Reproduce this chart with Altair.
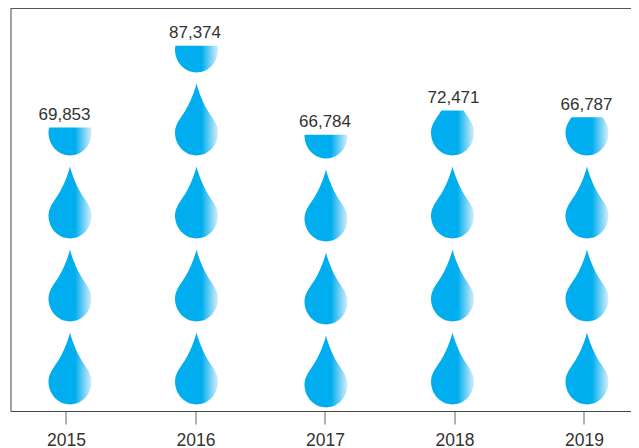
import numpy as np
import pandas as pd
import altair as alt

years = [2015, 2016, 2017, 2018, 2019]
totals = [69853, 87374, 66784, 72471, 66787]
full_drops = [3, 4, 3, 3, 3]
part_fill = [0.39, 0.37, 0.33, 0.625, 0.53]

# horizontal / vertical nudges of each column of drops and of each label
drop_dx = [4, 1, 1, -2, 3]
drop_dy = [0, 0, 3, 0, 0]
text_dx = [-1.5, -0.5, 0, -1, 2.5]

SLOT = 83.0
DROP_H = 72.0
BOTTOM_GAP = 6.5
W, H = 620.5, 402.5


def bez(p0, p1, p2, p3, n=24):
    t = np.linspace(0, 1, n)[:, None]
    p0, p1, p2, p3 = map(np.array, (p0, p1, p2, p3))
    return (1-t)**3*p0 + 3*(1-t)**2*t*p1 + 3*(1-t)*t**2*p2 + t**3*p3


# half width against height of the drop, in drop pixels
ang = np.linspace(-np.pi/2, 0, 24)
arc = np.c_[21.5*np.cos(ang), 23+23*np.sin(ang)]
up1 = bez((21.5, 23), (21.5, 32), (15, 38), (10, 47))
up2 = bez((10, 47), (6, 54), (2, 64), (0, 72))
prof = np.vstack([arc, up1[1:], up2[1:]])


def drop_path(frac):
    hs = np.linspace(0, DROP_H*frac, 70)
    ws = np.interp(hs, prof[:, 1], prof[:, 0])
    ys = (DROP_H/2 - hs)/(DROP_H/2)
    xs = ws/(DROP_H/2)
    pts = [(x, y) for x, y in zip(xs, ys)] + [(-x, y) for x, y in zip(xs[::-1], ys[::-1])]
    return "M" + "L".join(f"{x:.4f},{y:.4f}" for x, y in pts) + "Z"


slot_low = -(BOTTOM_GAP + DROP_H/2)/SLOT
y_scale = alt.Scale(domain=[slot_low, slot_low + H/SLOT], range=[H, 0], nice=False, zero=False)
x_low = 2015 - 55.5/129.5
x_scale = alt.Scale(domain=[x_low, x_low + W/129.5], range=[0, W], nice=False, zero=False)

rows, labels = [], []
for yr, tot, n, f, dx, dy, tdx in zip(years, totals, full_drops, part_fill, drop_dx, drop_dy, text_dx):
    for i in range(n):
        rows.append(dict(year=yr, slot=i, path=drop_path(1.0), dx=dx, dy=dy))
    rows.append(dict(year=yr, slot=n, path=drop_path(f), dx=dx, dy=dy))
    labels.append(dict(year=yr, top=n + (f*DROP_H - DROP_H/2)/SLOT, text=f"{tot:,}", dx=tdx, dy=dy))
drops = pd.DataFrame(rows)

grad = alt.Gradient(
    gradient="linear", x1=0, x2=1, y1=0, y2=0,
    stops=[alt.GradientStop(offset=0, color="#00AEEF"),
           alt.GradientStop(offset=0.62, color="#00AEEF"),
           alt.GradientStop(offset=1, color="#D6EEFB")],
)

x_enc = alt.X("year:Q", scale=x_scale, title=None,
              axis=alt.Axis(values=years, format="d", grid=False, tickSize=13, tickColor="#666666",
                            tickWidth=1, domainColor="#444444", domainWidth=1,
                            labelFontSize=17.5, labelColor="#333333", labelFont="Liberation Sans",
                            labelPadding=7.5, labelFlush=False, labelOverlap=False))
y_enc = alt.Y("slot:Q", scale=y_scale, title=None,
              axis=alt.Axis(labels=False, ticks=False, grid=False, domainColor="#444444", domainWidth=1))

layers = []
for yr, dx, dy in zip(years, drop_dx, drop_dy):
    layers.append(
        alt.Chart(drops[drops.year == yr])
        .mark_point(filled=True, fill=grad, opacity=1, strokeWidth=0, size=DROP_H**2, xOffset=dx, yOffset=dy)
        .encode(x=x_enc, y=y_enc, shape=alt.Shape("path:N", scale=None, legend=None))
    )
for rec in labels:
    layers.append(
        alt.Chart(pd.DataFrame([rec]))
        .mark_text(font="Liberation Sans", fontSize=17, color="#333333", baseline="bottom",
                   dx=rec["dx"], dy=rec["dy"] - 3.5)
        .encode(x=alt.X("year:Q", scale=x_scale, title=None),
                y=alt.Y("top:Q", scale=y_scale, title=None),
                text="text:N")
    )
layers.append(
    alt.Chart(pd.DataFrame({"a": [0]}))
    .mark_rule(color="#555555", strokeWidth=1.2)
    .encode(x=alt.value(0), x2=alt.value(W), y=alt.value(0))
)

chart = alt.layer(*layers).properties(
    width=W, height=H,
    autosize=alt.AutoSizeParams(type="none"),
    padding={"left": 2.5, "top": 0.5, "right": 0, "bottom": 37},
).configure_view(stroke=None)

chart.save("out.html", embed_options={"renderer": "svg", "actions": False})
